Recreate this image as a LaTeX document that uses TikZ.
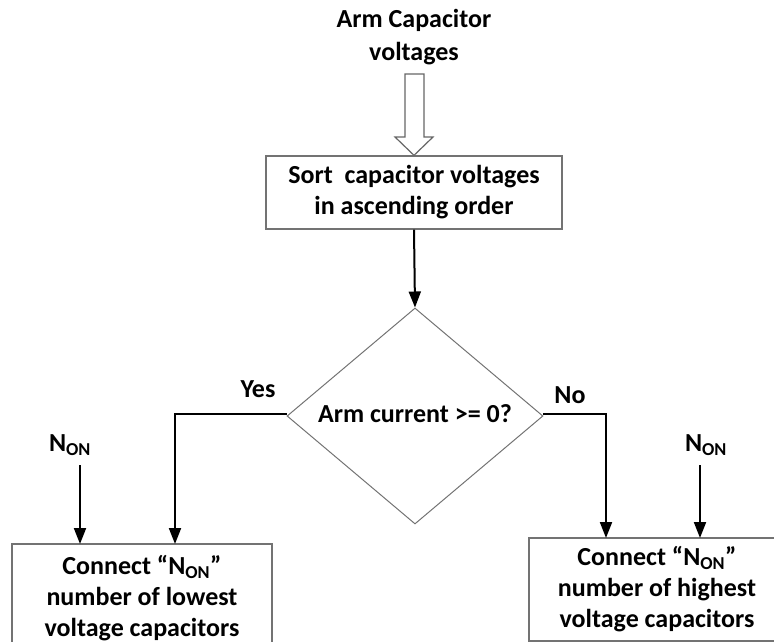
\documentclass[tikz,border=0pt]{standalone}
\usepackage{fontspec}
\setmainfont{Carlito}
\usetikzlibrary{shapes.geometric,arrows.meta,calc}

\tikzset{
  lbl/.style={font=\fontsize{26}{31}\selectfont\bfseries, align=center, inner sep=0pt},
  stepbox/.style={lbl, draw=black!55, line width=1.3pt, fill=white},
  decision/.style={lbl, shape=diamond, draw=black!55, line width=1pt,
    minimum width=256pt, minimum height=216pt, inner sep=0pt},
  flow/.style={draw=black, line width=2pt, -{Triangle[length=16pt,width=12pt]}},
}

\newcommand{\non}{N\textsubscript{ON}}

\begin{document}
\begin{tikzpicture}[x=1pt,y=-1pt]
\useasboundingbox (0,0) rectangle (774,642);

% input label and block arrow
\node[lbl, font=\fontsize{26}{33}\selectfont\bfseries] (inp) at (414,37) {Arm Capacitor\\voltages};
\node[stepbox, minimum width=296pt, minimum height=73pt] (sort) at (414,192.5)
  {Sort \ capacitor voltages\\in ascending order};
\draw[draw=black!60, line width=1.2pt, fill=white]
  (405,74) -- (424,74) -- (424,137) -- (433,137) -- (sort.north)
  -- (395,137) -- (405,137) -- cycle;

% decision
\node[decision] (dec) at (415,416) {};
\node[lbl] (q) at (415,414) {Arm current >= 0?};
\coordinate (decL) at (287,414);
\coordinate (decR) at (543,414);

% result boxes
\node[stepbox, minimum width=260pt, minimum height=108pt] (low) at (142,598)
  {Connect ``\non''\\number of lowest\\voltage capacitors};
\node[stepbox, minimum width=256pt, minimum height=103pt] (high) at (657,589.5)
  {Connect ``\non''\\number of highest\\voltage capacitors};

% connectors
\draw[flow] (sort.south) -- (dec.north);
\draw[flow] (decL) -- (175,414) -- (175,544);
\draw[flow] (decR) -- (606,414) -- (606,538);

\node[lbl] (yes) at (258,389) {Yes};
\node[lbl] (no) at (570,395) {No};

% external N_ON inputs
\node[lbl] (nl) at (70,445) {\non};
\node[lbl] (nr) at (706,445) {\non};
\coordinate (nlS) at (80,465);
\coordinate (nrS) at (700,465);
\draw[flow] (nlS) -- (80,544);
\draw[flow] (nrS) -- (700,538);
\end{tikzpicture}
\end{document}
